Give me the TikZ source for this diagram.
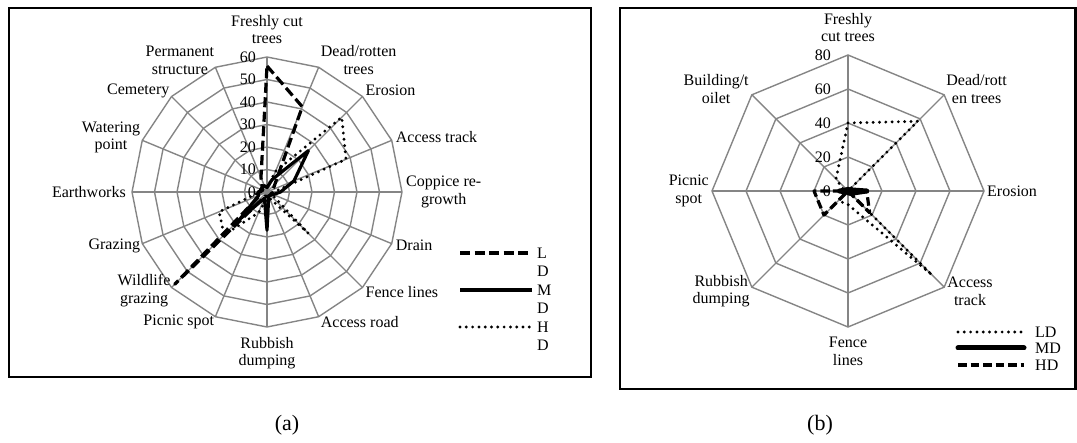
\documentclass[tikz,border=0pt]{standalone}
\usepackage{fontspec}
\setmainfont{Liberation Serif}
\usetikzlibrary{positioning}

\begin{document}
\begin{tikzpicture}[x=1pt, y=1pt,
    gridline/.style={draw=black!48, line width=1.4pt},
    framebox/.style={draw=black, line width=2.8pt},
    dashedline/.style={line width=3.2pt, line join=round, dash pattern=on 10pt off 4.5pt},
    solidline/.style={line width=3.2pt, line join=round},
    heavyline/.style={line width=5pt, line join=round, line cap=round},
    dottedline/.style={line width=3.2pt, line join=round, line cap=round, dash pattern=on 0pt off 6.3pt}]
  \useasboundingbox (0,0) rectangle (1077,-443);

  % (a)
  \draw[framebox] (9,-8) rectangle (591,-377);
  \begin{scope}[shift={(267,-192)}]
    \foreach \k in {1,...,6}
      \draw[gridline] (90:{\k*22.5}) \foreach \i in {1,...,15} { -- ({90-22.5*\i}:{\k*22.5}) } -- cycle;
    \foreach \i in {0,...,15}
      \draw[gridline] (0,0) -- ({90-22.5*\i}:135);

    \draw[dashedline] (90:{56*2.25}) \foreach \v [count=\i] in {41,5,3,3,2,2,2,2,2,58,3,3,3,3,7} { -- ({90-22.5*\i}:{\v*2.25}) } -- cycle;
    \draw[solidline] (90:{2*2.25}) \foreach \v [count=\i] in {6,26,13,6,3,2,2,17,3,17,4,4,2,3,3} { -- ({90-22.5*\i}:{\v*2.25}) } -- cycle;
    \draw[dottedline] (90:{2*2.25}) \foreach \v [count=\i] in {10,47,38,3,2,26,3,3,10,27,23,3,2,2,3} { -- ({90-22.5*\i}:{\v*2.25}) } -- cycle;

    \begin{scope}[every node/.style={inner sep=0pt, align=center, font=\fontsize{16}{17.5}\selectfont}]
      \foreach \v in {0,10,...,60}
        \node[anchor=east] (ticka\v) at (-11,{\v*2.25}) {\v};
      \node[anchor=south, yshift=13pt] (fresh) at (90:135) {Freshly cut\\trees};
      \node[anchor=west, xshift=2pt, yshift=7pt] (dead) at (67.5:135) {Dead/rotten\\trees};
      \node[anchor=west, xshift=3pt, yshift=6pt] (erosion) at (45:135) {Erosion};
      \node[anchor=west, xshift=4pt, yshift=3pt] (track) at (22.5:135) {Access track};
      \node[anchor=west, xshift=4pt] (coppice) at (0:135) {Coppice re-\\growth};
      \node[anchor=west, xshift=4pt, yshift=-2pt] (drain) at (-22.5:135) {Drain};
      \node[anchor=west, xshift=3pt, yshift=-5pt] (fence) at (-45:135) {Fence lines};
      \node[anchor=west, xshift=2pt, yshift=-5pt] (road) at (-67.5:135) {Access road};
      \node[anchor=north, yshift=-10pt] (rubbish) at (-90:135) {Rubbish\\dumping};
      \node[anchor=east, xshift=-1pt, yshift=-5pt] (picnic) at (-112.5:135) {Picnic spot};
      \node[anchor=east, xshift=-1pt, yshift=-3pt] (wildlife) at (-135:135) {Wildlife\\grazing};
      \node[anchor=east, xshift=-2pt, yshift=-2pt] (grazing) at (-157.5:135) {Grazing};
      \node[anchor=east, xshift=-6pt] (earth) at (180:135) {Earthworks};
      \node[anchor=east, xshift=-2pt, yshift=3pt] (watering) at (157.5:135) {Watering\\point};
      \node[anchor=east, xshift=-2pt, yshift=6pt] (cemetery) at (135:135) {Cemetery};
      \node[anchor=east, xshift=-1pt, yshift=7pt] (permanent) at (112.5:135) {Permanent\\structure};
    \end{scope}
  \end{scope}

  \draw[dashedline] (460,-253) -- (532,-253);
  \draw[solidline] (460,-290) -- (532,-290);
  \draw[dottedline] (460,-327) -- (532,-327);
  \begin{scope}[every node/.style={inner sep=0pt, anchor=west, font=\fontsize{16}{17.5}\selectfont}]
    \node (legaL) at (537,-253) {L};
    \node (legaLD) at (537,-271.5) {D};
    \node (legaM) at (537,-290) {M};
    \node (legaMD) at (537,-308.5) {D};
    \node (legaH) at (537,-327) {H};
    \node (legaHD) at (537,-345.5) {D};
  \end{scope}

  % (b)
  \draw[framebox] (620,-8) rectangle (1075.5,-389);
  \begin{scope}[shift={(848,-191)}]
    \foreach \k in {1,...,4}
      \draw[gridline] (90:{\k*34}) \foreach \i in {1,...,7} { -- ({90-45*\i}:{\k*34}) } -- cycle;
    \foreach \i in {0,...,7}
      \draw[gridline] (0,0) -- ({90-45*\i}:136);

    \draw[dottedline] (90:{40*1.7}) \foreach \v [count=\i] in {58,0,70,8,8,2,10} { -- ({90-45*\i}:{\v*1.7}) } -- cycle;
    \draw[heavyline] (90:{1*1.7}) \foreach \v [count=\i] in {1,11,2,1,1,5,1} { -- ({90-45*\i}:{\v*1.7}) } -- cycle;
    \draw[dashedline, dash pattern=on 8.5pt off 4pt] (90:0) \foreach \v [count=\i] in {0,11,18,0,20,20,0} { -- ({90-45*\i}:{\v*1.7}) } -- cycle;

    \begin{scope}[every node/.style={inner sep=0pt, align=center, font=\fontsize{16}{17.5}\selectfont}]
      \foreach \v in {0,20,...,80}
        \node[anchor=east] (tickb\v) at (-17,{\v*1.7}) {\v};
      \node[anchor=south, yshift=13pt] (bfresh) at (90:136) {Freshly\\cut trees};
      \node[anchor=west, xshift=2pt, yshift=6pt] (bdead) at (45:136) {Dead/rott\\en trees};
      \node[anchor=west, xshift=3pt] (berosion) at (0:136) {Erosion};
      \node[anchor=west, xshift=3pt, yshift=-4pt] (btrack) at (-45:136) {Access\\track};
      \node[anchor=north, yshift=-10pt] (bfence) at (-90:136) {Fence\\lines};
      \node[anchor=east, xshift=-2pt, yshift=-4pt] (brubbish) at (-135:136) {Rubbish\\dumping};
      \node[anchor=east, xshift=-3pt] (bpicnic) at (180:136) {Picnic\\spot};
      \node[anchor=east, xshift=-3pt, yshift=6pt] (bbuilding) at (135:136) {Building/t\\oilet};
    \end{scope}
  \end{scope}

  \draw[dottedline] (958,-332) -- (1024,-332);
  \draw[heavyline] (958,-348) -- (1024,-348);
  \draw[dashedline, dash pattern=on 8.5pt off 4pt] (958,-365) -- (1024,-365);
  \begin{scope}[every node/.style={inner sep=0pt, anchor=west, font=\fontsize{16}{17.5}\selectfont}]
    \node (legbL) at (1035,-332) {LD};
    \node (legbM) at (1035,-348) {MD};
    \node (legbH) at (1035,-365) {HD};
  \end{scope}

  \node[font=\fontsize{22}{24}\selectfont] (capa) at (287,-425) {(a)};
  \node[font=\fontsize{22}{24}\selectfont] (capb) at (820,-425) {(b)};
\end{tikzpicture}
\end{document}
